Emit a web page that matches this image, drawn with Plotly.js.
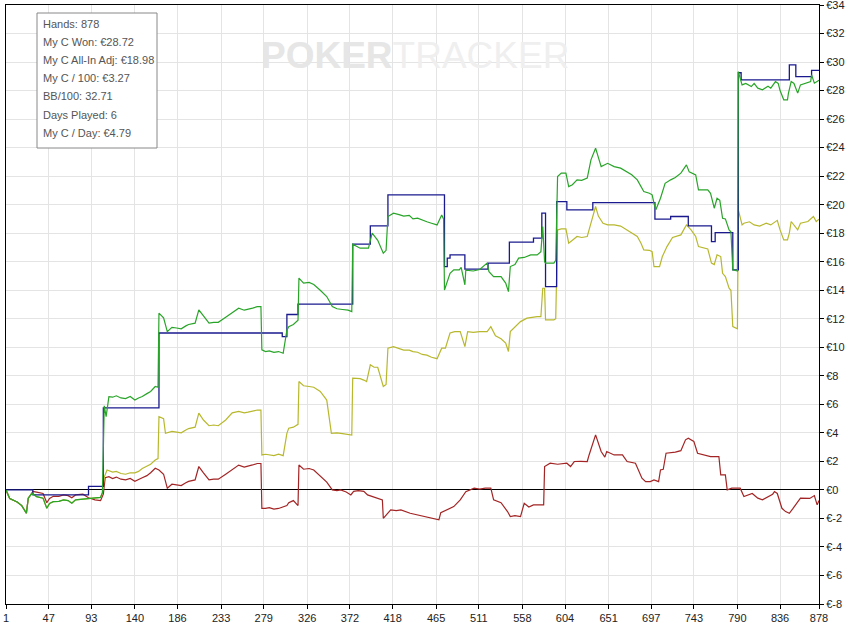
<!DOCTYPE html>
<html>
<head>
<meta charset="utf-8">
<script src="https://cdn.plot.ly/plotly-3.0.1.min.js"></script>
<style>
  html, body { margin: 0; padding: 0; background: #fff; }
  #graph { width: 848px; height: 623px; }
</style>
</head>
<body>
<div id="graph"></div>
<script>
// hand numbers on the x axis
const xTicks = [1, 47, 93, 140, 186, 233, 279, 326, 372, 418, 465, 511, 558, 604, 651, 697, 743, 790, 836, 878];
const yTicks = [-8, -6, -4, -2, 0, 2, 4, 6, 8, 10, 12, 14, 16, 18, 20, 22, 24, 26, 28, 30, 32, 34];

const statLines = [
  "Hands: 878",
  "My C Won: €28.72",
  "My C All-In Adj: €18.98",
  "My C / 100: €3.27",
  "BB/100: 32.71",
  "Days Played: 6",
  "My C / Day: €4.79"
];

// showdown winnings (blue, step line)
const blueHands = [1, 30, 90, 106, 166, 299, 304, 316, 375, 394, 413, 474, 477, 480, 496, 521, 544, 570, 579, 583,
  595, 606, 634, 701, 718, 737, 762, 766, 785, 791, 794, 846, 853, 870, 878];
const blueValues = [0, -0.35, 0.25, 5.75, 11.0, 10.75, 12.3, 13.02, 17.23, 18.51, 20.69, 15.66, 16.25, 16.48, 15.48, 15.9, 17.37, 17.65, 19.4, 14.26,
  20.22, 19.64, 20.15, 18.98, 19.17, 18.51, 17.41, 18.04, 15.43, 29.25, 28.75, 29.8, 28.98, 29.41, 29.41];

// net won (green)
const greenHands = [1, 5, 13, 18, 23, 25, 29, 34, 41, 45, 48, 52, 58, 63, 68, 72, 76, 84, 90, 97, 103, 105,
  107, 109, 112, 116, 120, 125, 130, 135, 140, 144, 148, 153, 157, 162, 165,
  166, 171, 175, 180, 185, 190, 195, 198, 205, 209, 214, 220, 225, 230, 238, 245, 252, 258, 262, 267, 272, 276,
  277, 281, 285, 290, 295, 300, 304, 306, 311, 316,
  317, 322, 328, 333, 340, 347, 353, 358, 364, 370, 374,
  375, 383, 392, 396, 402, 408, 411, 413, 419, 425, 430, 436, 440, 445, 450, 455, 460, 466, 471, 473,
  474, 480, 484, 490, 492, 496, 497, 505, 512, 520, 522, 527, 535, 540, 543, 545, 550, 554, 560, 567, 574, 578, 580, 582, 583, 592, 594,
  596, 600, 605, 608, 612, 617, 622, 628, 632, 637, 640, 643, 650, 657, 664, 671, 676, 682, 686, 689, 695, 698, 700, 702, 707, 712, 718, 723, 729, 735, 738, 745, 748, 758, 761, 765, 768, 771, 774, 777, 781, 783, 785, 790,
  791, 795, 799, 805, 808, 812, 817, 823, 826, 831, 834, 836, 840, 844, 845, 848, 851, 855, 858, 864, 869, 870, 873, 878];
const greenValues = [0, -0.6, -0.85, -1.1, -1.64, -0.58, -0.23, -0.47, -0.58, -1.29, -0.95, -0.82, -0.8, -0.7, -0.75, -0.94, -0.7, -0.65, -0.58, -0.55, -0.52, -0.2,
  5.9, 5.14, 6.54, 6.5, 6.6, 6.45, 6.4, 6.55, 6.3, 6.45, 6.55, 6.75, 6.9, 7.25, 7.2,
  12.39, 12.06, 11.1, 11.4, 11.35, 11.3, 11.5, 11.6, 11.69, 12.62, 12.2, 11.69, 11.75, 11.75, 12.1, 12.39, 12.74, 12.6, 12.65, 12.75, 12.85, 12.85,
  9.82, 9.7, 9.75, 9.65, 9.7, 9.58, 11.2, 11.45, 11.6, 11.9,
  14.85, 14.5, 14.55, 14.4, 14.0, 13.56, 12.85, 12.7, 12.65, 12.6, 12.5,
  17.23, 16.95, 16.95, 18.0, 17.5, 16.6, 16.8, 19.17, 19.4, 19.3, 19.2, 19.25, 19.0, 19.05, 18.9, 18.8, 18.7, 18.58, 19.28, 19.0,
  14.02, 15.19, 15.43, 15.43, 15.6, 14.38, 15.4, 15.35, 15.45, 15.9, 15.3, 14.96, 14.96, 14.5, 13.9, 15.66, 15.8, 16.25, 16.3, 16.48, 16.48, 16.71, 18.46, 16.0, 15.9, 15.9, 16.1,
  21.97, 22.21, 22.21, 21.27, 21.4, 21.74, 21.7, 21.86, 23.14, 23.96, 23.3, 22.67, 22.9, 22.67, 22.56, 22.32, 22.1, 21.74, 21.3, 20.92, 20.8, 20.69, 20.1, 19.64, 20.45, 21.5, 21.74, 21.9, 22.21, 22.79, 22.3, 22.09, 21.04, 21.04, 20.8, 19.75, 20.45, 20.3, 19.05, 19.0, 18.23, 18.1, 15.43, 15.35,
  29.33, 28.4, 28.5, 28.28, 28.5, 28.17, 28.05, 28.3, 28.17, 28.63, 28.5, 28.0, 27.35, 27.35, 27.8, 28.63, 28.5, 27.82, 28.4, 28.5, 28.63, 29.1, 28.52, 28.72];

// all-in adjusted (olive)
const oliveHands = [1, 5, 13, 18, 23, 25, 29, 34, 41, 45, 48, 52, 58, 63, 68, 72, 76, 84, 90, 97, 103, 105,
  107, 110, 116, 120, 125, 130, 135, 140, 144, 148, 153, 157, 162, 165,
  166, 171, 173, 180, 185, 190, 195, 198, 205, 209, 214, 220, 225, 230, 238, 245, 252, 258, 262, 267, 272, 276,
  277, 281, 285, 290, 295, 300, 304, 306, 311, 316,
  317, 322, 328, 333, 340, 347, 352, 358, 364, 370, 374,
  375, 383, 387, 390, 394, 398, 402, 408, 411, 413, 419, 425, 430, 436, 440, 445, 450, 455, 460, 466, 471, 475,
  480, 485, 491, 496, 499, 505, 512, 520, 524, 529, 535, 540, 543, 545, 551, 556, 563, 568, 574, 578, 580, 582, 583, 592, 594,
  596, 600, 605, 608, 612, 617, 622, 628, 632, 637, 640, 645, 650, 657, 664, 671, 676, 682, 686, 689, 695, 698, 700, 706, 709, 714, 720, 725, 729, 732, 735, 740, 745, 748, 758, 762, 765, 768, 772, 774, 777, 781, 783, 785, 790,
  791, 795, 797, 803, 808, 814, 821, 826, 833, 836, 840, 844, 846, 848, 855, 858, 866, 872, 875, 878];
const oliveValues = [0, -0.6, -0.85, -1.1, -1.64, -0.58, -0.23, -0.47, -0.58, -1.29, -0.95, -0.82, -0.8, -0.7, -0.75, -0.94, -0.7, -0.65, -0.58, -0.55, -0.52, -0.2,
  0.9, 1.4, 1.25, 1.3, 1.15, 1.1, 1.2, 1.2, 1.3, 1.5, 1.7, 1.8, 2.1, 2.2,
  5.14, 5.0, 3.97, 4.1, 4.05, 4.0, 4.2, 4.3, 4.4, 5.38, 4.9, 4.5, 4.55, 4.5, 4.9, 5.4, 5.5, 5.4, 5.45, 5.55, 5.6, 5.6,
  2.45, 2.5, 2.45, 2.4, 2.5, 2.4, 3.97, 4.33, 4.4, 4.6,
  7.6, 7.3, 7.25, 7.2, 6.9, 6.3, 3.97, 4.0, 3.95, 3.9, 3.85,
  7.83, 7.8, 7.7, 7.6, 8.77, 8.6, 8.6, 7.25, 7.4, 9.94, 10.05, 9.9, 9.8, 9.8, 9.7, 9.65, 9.5, 9.45, 9.3, 9.2, 9.94, 9.94,
  11.0, 11.1, 11.1, 10.05, 11.1, 11.05, 11.1, 11.1, 11.45, 10.8, 10.6, 10.29, 9.7, 11.1, 11.45, 11.8, 12.04, 12.1, 12.15, 12.15, 14.14, 14.14, 11.92, 11.92, 12.0,
  18.23, 18.3, 18.3, 17.3, 17.5, 17.77, 17.7, 17.77, 18.7, 19.87, 19.2, 18.7, 18.58, 18.58, 18.5, 18.23, 18.0, 17.77, 17.3, 16.83, 16.8, 16.71, 15.66, 15.66, 16.36, 17.06, 17.7, 17.8, 17.88, 18.23, 18.58, 18.23, 17.77, 17.06, 16.9, 15.9, 15.8, 16.48, 16.36, 15.19, 14.96, 14.14, 14.0, 11.45, 11.3,
  19.64, 18.58, 18.7, 18.8, 18.58, 18.5, 18.7, 18.58, 18.9, 18.23, 17.53, 17.53, 18.0, 18.82, 18.23, 18.7, 18.82, 19.17, 18.82, 18.98];

// non-showdown winnings (red)
const redHands = [1, 5, 13, 18, 23, 25, 29, 30, 34, 41, 45, 48, 52, 58, 63, 68, 72, 76, 84, 90, 97, 103, 106,
  108, 112, 116, 120, 125, 130, 135, 140, 144, 148, 153, 157, 162, 165, 166, 171,
  175, 180, 185, 190, 195, 198, 205, 209, 214, 220, 225, 230, 238, 245, 252, 258, 262, 267, 272, 276,
  277, 281, 285, 290, 295, 300, 304, 306, 311, 316,
  317, 322, 328, 333, 340, 347, 353, 358, 362, 368, 373, 376, 381, 387, 391, 398, 407,
  408, 416, 422, 427, 437, 445, 452, 460, 468, 470, 477, 484, 491, 497, 506, 512, 518, 524, 527, 535, 542, 545, 550, 556, 560, 565, 570, 581,
  582, 588, 596, 606, 610, 614, 621, 628, 630, 637, 643, 647, 649, 657, 666, 671, 680, 684, 687, 691, 696, 700, 705, 707, 710, 713, 718, 723, 729, 734, 737, 743, 747, 756, 761, 770, 772, 777,
  779, 784, 793, 797, 806, 812, 817, 828, 830, 833, 838, 842, 846, 850, 853, 858, 868, 873, 876, 878];
const redValues = [0, -0.6, -0.85, -1.1, -1.64, -0.58, -0.23, -0.1, -0.15, -0.25, -0.9, -0.6, -0.45, -0.45, -0.35, -0.4, -0.55, -0.35, -0.3, -0.55, -0.7, -0.75, -0.3,
  0.85, 0.93, 0.8, 0.9, 0.75, 0.7, 0.8, 0.6, 0.75, 0.85, 1.0, 1.2, 1.52, 1.45, 1.4, 1.1,
  0.12, 0.4, 0.35, 0.3, 0.5, 0.6, 0.7, 1.64, 1.2, 0.7, 0.75, 0.75, 1.1, 1.4, 1.74, 1.6, 1.65, 1.75, 1.85, 1.85,
  -1.29, -1.3, -1.25, -1.35, -1.3, -1.2, -1.1, -0.9, -0.75, -1.1,
  1.75, 1.45, 1.5, 1.4, 0.95, 0.55, 0.0, -0.05, 0.0, -0.15, -0.35, -0.1, -0.05, -0.1, -0.35, -0.5, -0.7,
  -1.99, -1.4, -1.45, -1.4, -1.64, -1.75, -1.87, -1.95, -2.1, -1.6, -1.4, -1.17, -0.7, -0.12, 0.12, 0.05, 0.12, 0.12, -0.7, -0.9, -1.52, -1.87, -1.8, -1.87, -0.94, -1.2, -1.05, -1.05,
  1.64, 1.87, 1.8, 1.87, 1.64, 1.99, 2.0, 1.99, 2.45, 3.86, 2.69, 2.3, 2.69, 2.45, 2.45, 1.99, 1.87, 1.29, 0.82, 0.58, 0.58, 0.7, 0.58, 1.4, 1.45, 2.57, 2.6, 2.65, 2.75, 3.51, 3.62, 3.4, 2.57, 2.45, 2.34, 2.34, 1.05, 1.05,
  0.0, 0.12, 0.12, -0.47, -0.25, -0.58, -0.7, -0.3, -0.12, -0.25, -1.29, -1.52, -1.64, -1.3, -1.05, -0.58, -0.6, -0.4, -1.05, -0.75];

const font = "Liberation Sans, Arial, sans-serif";

const traces = [
  { x: redHands, y: redValues, type: "scatter", mode: "lines", line: { color: "#a32424", width: 1.2 } },
  { x: oliveHands, y: oliveValues, type: "scatter", mode: "lines", line: { color: "#b8b82e", width: 1.2 } },
  { x: blueHands, y: blueValues, type: "scatter", mode: "lines", line: { color: "#1a1a8e", width: 1.3, shape: "hv" } },
  { x: greenHands, y: greenValues, type: "scatter", mode: "lines", line: { color: "#28a428", width: 1.2 } },
];

// stats box lines, one annotation each (pixel rows -> paper coords)
const annotations = statLines.map((t, i) => ({
  text: t,
  xref: "paper", yref: "paper",
  x: (41 - 6) / 813,
  y: (604 - (24 + i * 18.1)) / 599,
  xanchor: "left", yanchor: "middle",
  showarrow: false,
  font: { family: font, size: 11, color: "#555" },
}));

annotations.push({
  text: "<span style='color:#e6e6e6'><b>POKER</b></span><span style='color:#efefef'>TRACKER</span>",
  xref: "paper", yref: "paper",
  x: (415 - 6) / 813, y: (604 - 55) / 599,
  xanchor: "center", yanchor: "middle",
  showarrow: false,
  font: { family: font, size: 37 },
});

const layout = {
  width: 848,
  height: 623,
  margin: { l: 6, r: 29, t: 5, b: 19, pad: 0 },
  paper_bgcolor: "#fff",
  plot_bgcolor: "#fff",
  showlegend: false,
  xaxis: {
    range: [1, 878],
    tickvals: xTicks,
    ticktext: xTicks.map(String),
    ticks: "outside", ticklen: 4, tickcolor: "#000",
    showline: true, linecolor: "#000", linewidth: 1, mirror: true,
    showgrid: true, gridcolor: "#e4e4e4",
    zeroline: false,
    ticklabeloverflow: "allow",
    tickfont: { family: font, size: 11, color: "#222" },
  },
  yaxis: {
    side: "right",
    range: [-8, 34],
    tickvals: yTicks,
    ticktext: yTicks.map((v) => "€" + v),
    ticks: "outside", ticklen: 4, tickcolor: "#000",
    showline: true, linecolor: "#000", linewidth: 1, mirror: true,
    showgrid: true, gridcolor: "#e4e4e4",
    zeroline: true, zerolinecolor: "#000", zerolinewidth: 1,
    ticklabeloverflow: "allow",
    tickfont: { family: font, size: 11, color: "#222" },
  },
  shapes: [{
    type: "rect", xref: "paper", yref: "paper",
    x0: (37 - 6) / 813, x1: (157 - 6) / 813,
    y0: (604 - 148) / 599, y1: (604 - 13) / 599,
    line: { color: "#888", width: 1 },
    fillcolor: "#fff",
    layer: "above",
  }],
  annotations: annotations,
};

Plotly.newPlot("graph", traces, layout, { displayModeBar: false, staticPlot: true });
</script>
</body>
</html>
